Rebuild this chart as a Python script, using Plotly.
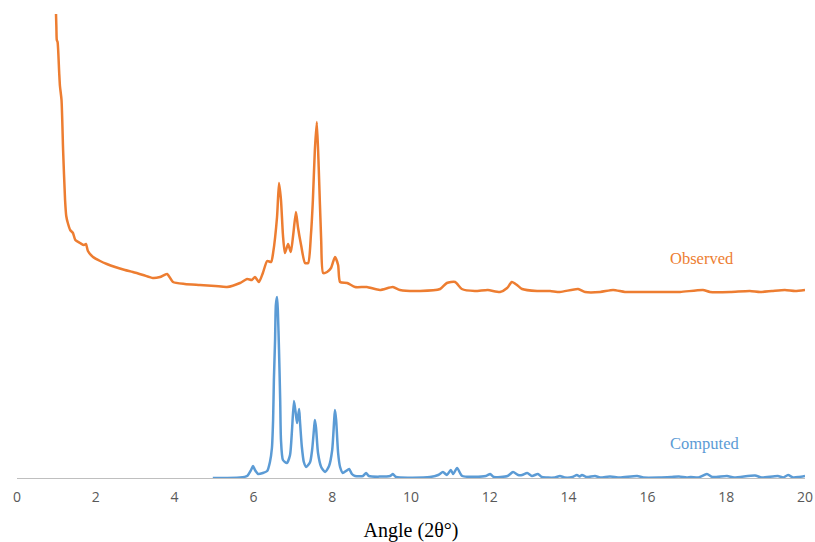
import plotly.graph_objects as go

# Powder X-ray diffraction patterns: measured vs. simulated
obs_angle = [
    0.99, 1.00, 1.01, 1.03, 1.07, 1.09, 1.13, 1.17, 1.22, 1.25, 1.29, 1.35,
    1.42, 1.48, 1.60, 1.70, 1.75, 1.80, 1.93, 2.11, 2.28, 2.49, 2.74, 2.94,
    3.20, 3.45, 3.63, 3.81, 3.96, 4.26, 4.64, 5.03, 5.33, 5.66, 5.84, 5.96,
    6.04, 6.14, 6.24, 6.35, 6.45, 6.50, 6.60, 6.65, 6.70, 6.75, 6.80, 6.88,
    6.95, 7.01, 7.08, 7.13, 7.21, 7.31, 7.39, 7.46, 7.51, 7.56, 7.61, 7.66,
    7.72, 7.77, 7.87, 7.97, 8.07, 8.15, 8.20, 8.38, 8.58, 8.88, 9.21, 9.54,
    9.72, 10.23, 10.74, 10.91, 11.12, 11.29, 11.62, 11.95, 12.26, 12.44,
    12.56, 12.69, 12.82, 13.20, 13.53, 13.78, 14.24, 14.42, 14.80, 15.13,
    15.43, 15.81, 16.32, 16.83, 17.41, 17.59, 18.10, 18.60, 18.86, 19.16,
    19.49, 19.75, 20.00,
]
obs_counts = [
    464, 450, 438, 436, 406, 392, 378, 328, 278, 262, 255, 248,
    245, 238, 235, 233, 234, 227, 221, 217, 214, 211, 208, 206,
    203, 200, 201, 204, 196, 194, 193, 192, 191, 195, 199, 198,
    201, 196, 205, 217, 216, 225, 261, 295, 278, 243, 225, 234,
    226, 243, 266, 251, 233, 215, 215, 243, 278, 328, 356, 308,
    238, 205, 206, 210, 221, 213, 196, 195, 191, 191, 188, 191,
    188, 187, 189, 195, 196, 189, 187, 188, 186, 190,
    196, 193, 189, 187, 187, 186, 189, 186, 186, 188,
    186, 186, 186, 186, 188, 186, 186, 187, 186, 187,
    188, 187, 188,
]

calc_angle = [
    4.97, 5.66, 5.84, 5.94, 5.99, 6.04, 6.12, 6.24, 6.35, 6.42, 6.47, 6.50,
    6.52, 6.55, 6.57, 6.60, 6.62, 6.65, 6.68, 6.70, 6.75, 6.85, 6.93, 6.98,
    7.03, 7.08, 7.11, 7.16, 7.18, 7.23, 7.28, 7.34, 7.44, 7.49, 7.54, 7.56,
    7.59, 7.64, 7.72, 7.82, 7.92, 8.00, 8.05, 8.07, 8.10, 8.15, 8.20, 8.27,
    8.35, 8.43, 8.50, 8.58, 8.78, 8.86, 8.93, 9.47, 9.54, 9.62, 10.48,
    10.69, 10.81, 10.91, 11.01, 11.07, 11.17, 11.30, 11.90, 12.01, 12.10,
    12.45, 12.59, 12.72, 12.82, 12.95, 13.07, 13.22, 13.32, 13.65, 13.78,
    13.90, 14.10, 14.21, 14.28, 14.34, 14.45, 14.67, 14.80, 15.05, 15.30,
    15.74, 15.90, 16.30, 16.60, 16.80, 17.00, 17.10, 17.30, 17.51, 17.65,
    18.02, 18.20, 18.73, 18.90, 19.31, 19.45, 19.57, 19.70, 19.85, 20.00,
]
calc_counts = [
    0, 0.5, 2, 8, 12, 8, 4, 5, 7, 16, 30, 58,
    98, 138, 173, 181, 168, 128, 78, 38, 18, 15, 23, 48,
    77, 63, 55, 69, 58, 31, 16, 11, 16, 28, 50, 58,
    50, 25, 11, 6, 12, 28, 58, 68, 58, 25, 11, 5,
    7, 9, 4, 2, 2, 5, 2, 2, 4, 1, 1,
    3, 6, 3, 8, 4, 10, 2, 2, 4, 1,
    2, 6, 3, 3, 5, 2, 4, 1, 0.5, 2,
    0.5, 1, 3, 1.5, 3, 1, 2, 0.5, 1.5, 0.5,
    2, 0.5, 0.5, 1, 1.5, 0.5, 1, 0.5, 4, 1,
    2, 0.5, 2.5, 0.5, 2, 0.5, 3, 0.5, 1, 2,
]

x_ticks = [0, 2, 4, 6, 8, 10, 12, 14, 16, 18, 20]

ORANGE = "#ED7D31"
BLUE = "#5B9BD5"
SERIF = "Liberation Serif, Times New Roman, serif"

fig = go.Figure()
fig.add_trace(go.Scatter(
    x=obs_angle, y=obs_counts, mode="lines", name="Observed",
    line=dict(color=ORANGE, width=2.5, shape="spline", smoothing=0.6),
))
fig.add_trace(go.Scatter(
    x=calc_angle, y=calc_counts, mode="lines", name="Computed",
    line=dict(color=BLUE, width=2.5, shape="spline", smoothing=0.6),
))

fig.add_annotation(x=17.39, y=220, text="Observed", showarrow=False,
                   font=dict(family=SERIF, size=16.5, color=ORANGE))
fig.add_annotation(x=17.46, y=35, text="Computed", showarrow=False,
                   font=dict(family=SERIF, size=16.5, color=BLUE))

fig.update_layout(
    width=815, height=542,
    margin=dict(l=17, r=10, t=0, b=64),
    paper_bgcolor="white", plot_bgcolor="white",
    showlegend=False,
    xaxis=dict(
        range=[0, 20], tickvals=x_ticks, ticks="", showgrid=False,
        zeroline=False, showline=True, linecolor="#BFBFBF", linewidth=1,
        tickfont=dict(family="Open Sans, sans-serif", size=14, color="#595959"),
        ticklabelstandoff=6,
        title=dict(text="Angle (2θ°)", standoff=19,
                   font=dict(family=SERIF, size=20, color="black")),
    ),
    yaxis=dict(range=[0, 478], visible=False),
)

fig.write_html("out.html")
